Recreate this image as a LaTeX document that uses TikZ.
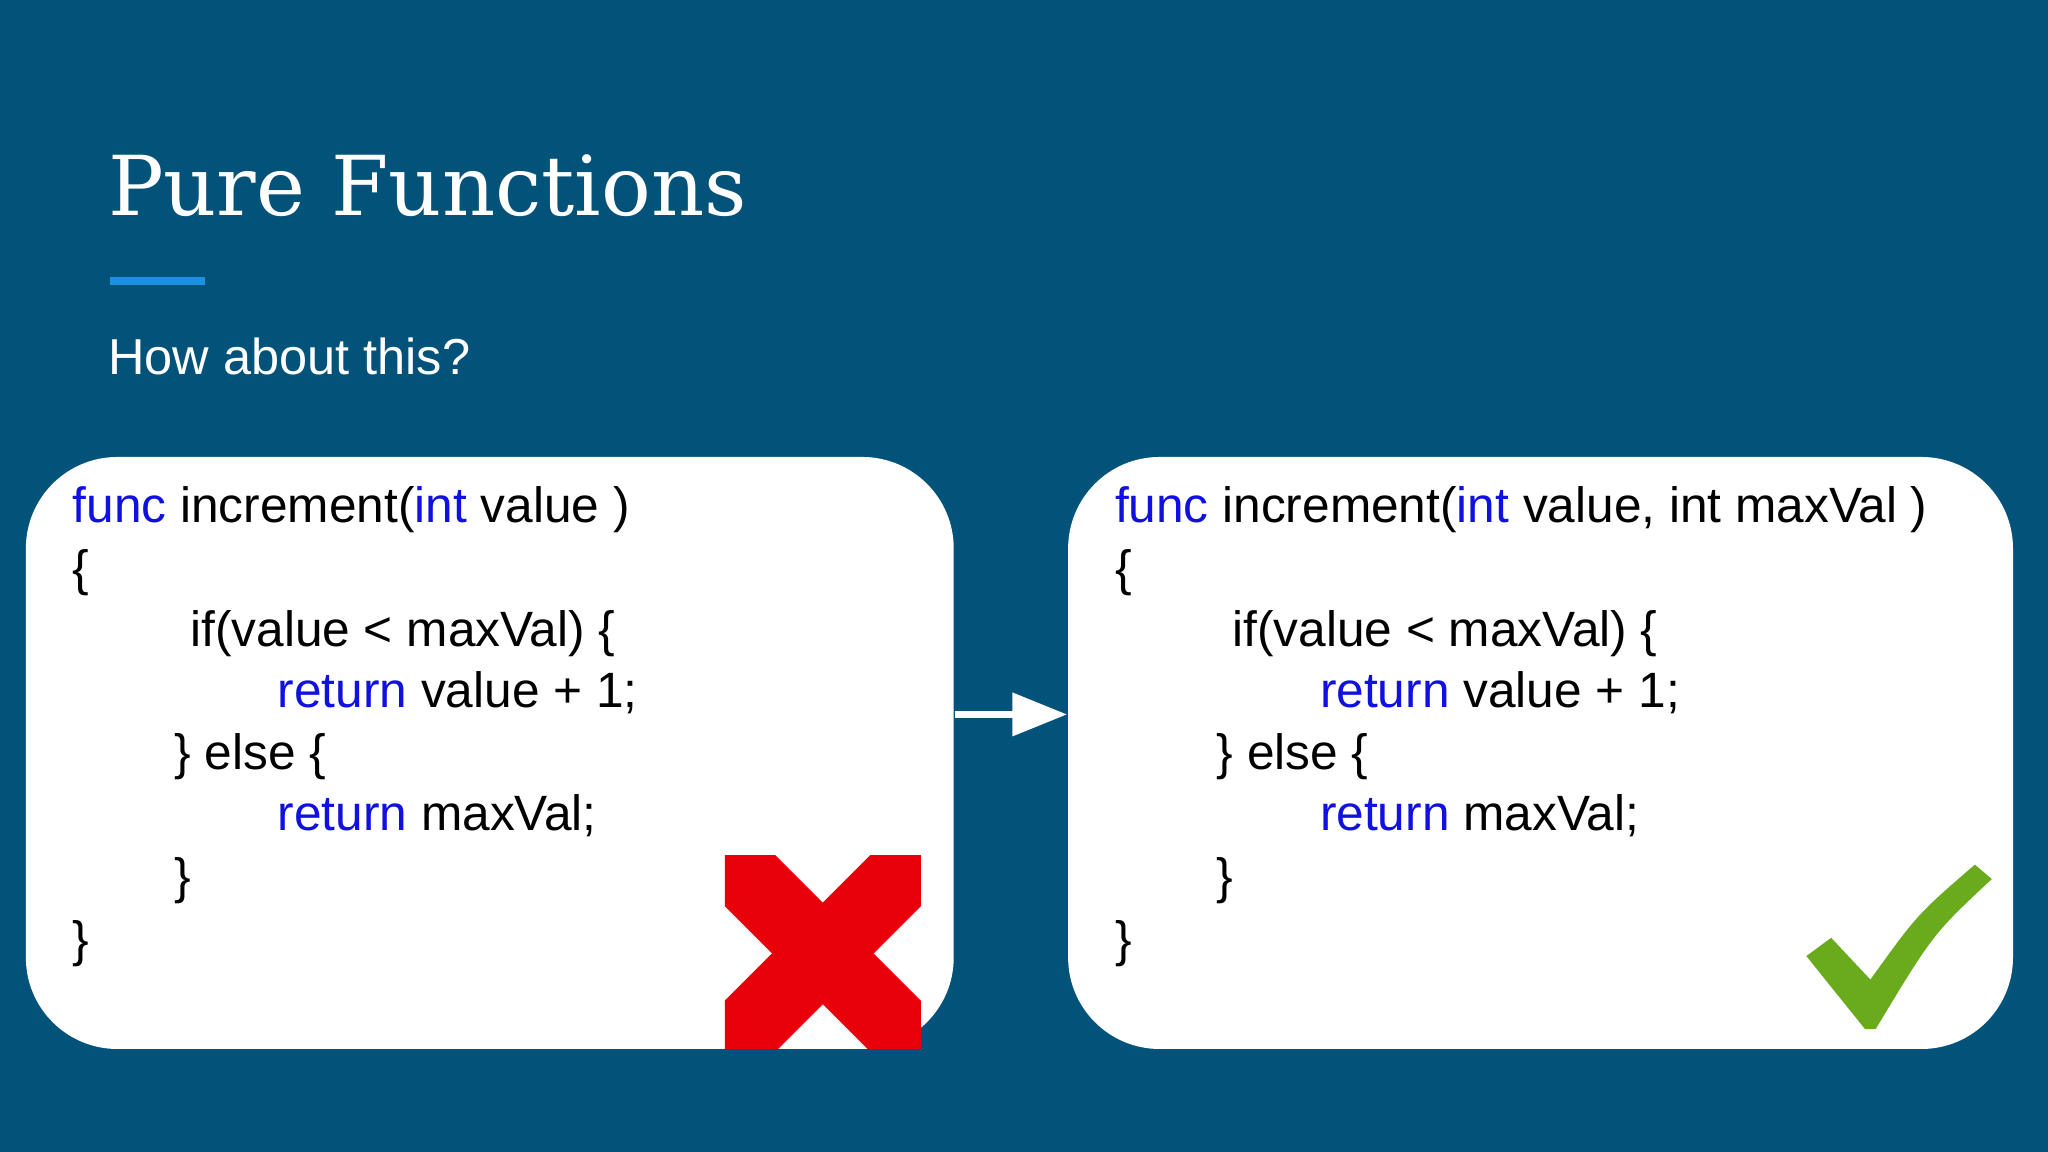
\documentclass[tikz,border=0pt]{standalone}
\usepackage{fontspec}
\setmainfont{Liberation Sans}
\newfontfamily\titlefont{DejaVu Serif}
\usetikzlibrary{arrows.meta}
\definecolor{slidebg}{HTML}{02527A}
\definecolor{accent}{HTML}{1E90E0}
\definecolor{kw}{HTML}{1010E0}
\definecolor{crossred}{HTML}{E8000A}
\definecolor{checkgreen}{HTML}{6AAB1E}
\tikzset{
  codebox/.style={fill=white, rounded corners=0.7cm, minimum width=7.1cm, minimum height=4.53cm, inner sep=0pt},
  codeline/.style={anchor=base west, inner sep=0pt, font=\fontsize{10.8}{13}\selectfont},
}
\newcommand{\kwd}[1]{\textcolor{kw}{#1}}
\begin{document}
\begin{tikzpicture}[x=0.01cm, y=-0.01cm]

    % Background
    \fill[slidebg] (0,0) rectangle (1568,882);
    \useasboundingbox (0,0) rectangle (1568,882);

    % Title and subtitle
    \node[anchor=base west, inner sep=0pt, text=white, font=\titlefont\fontsize{18}{20}\selectfont] (title) at (82,165) {Pure Functions};
    \fill[accent] (84,212) rectangle (157,218);
    \node[anchor=base west, inner sep=0pt, text=white, font=\fontsize{11}{13}\selectfont] (subtitle) at (82,287) {How about this?};

    % Boxes
    \node[codebox] (leftbox) at (375,576.5) {};
    \node[codebox, minimum width=7.23cm] (rightbox) at (1179.5,576.5) {};

    % Left code
    \node[codeline] (l1) at (55,400) {\kwd{func} increment(\kwd{int} value )};
    \node[codeline] (l2) at (55,448) {\{};
    \node[codeline] (l3) at (145,495) {if(value < maxVal) \{};
    \node[codeline] (l4) at (212,542) {\kwd{return} value + 1;};
    \node[codeline] (l5) at (133,589) {\} else \{};
    \node[codeline] (l6) at (212,636) {\kwd{return} maxVal;};
    \node[codeline] (l7) at (133,684) {\}};
    \node[codeline] (l8) at (55,732) {\}};

    % Right code
    \node[codeline] (r1) at (853,400) {\kwd{func} increment(\kwd{int} value, int maxVal )};
    \node[codeline] (r2) at (853,448) {\{};
    \node[codeline] (r3) at (943,495) {if(value < maxVal) \{};
    \node[codeline] (r4) at (1010,542) {\kwd{return} value + 1;};
    \node[codeline] (r5) at (931,589) {\} else \{};
    \node[codeline] (r6) at (1010,636) {\kwd{return} maxVal;};
    \node[codeline] (r7) at (931,684) {\}};
    \node[codeline] (r8) at (853,732) {\}};

    % Arrow
    \draw[white, line width=0.06cm, -{Triangle[length=0.42cm, width=0.32cm]}] ([yshift=0.295cm]leftbox.east) -- ([yshift=0.295cm]rightbox.west);

    % Red cross
    \begin{scope}
      \clip (555,655) rectangle (705,803);
      \draw[crossred, line width=0.55cm] (540,640) -- (720,820);
      \draw[crossred, line width=0.55cm] (720,640) -- (540,820);
    \end{scope}

    % Green check
    \fill[checkgreen] (1383,732) -- (1402,718) -- (1432,750)
      .. controls (1468,700) .. (1512,662) -- (1525,673)
      .. controls (1480,715) .. (1436,788) -- (1428,788) -- cycle;

\end{tikzpicture}
\end{document}
